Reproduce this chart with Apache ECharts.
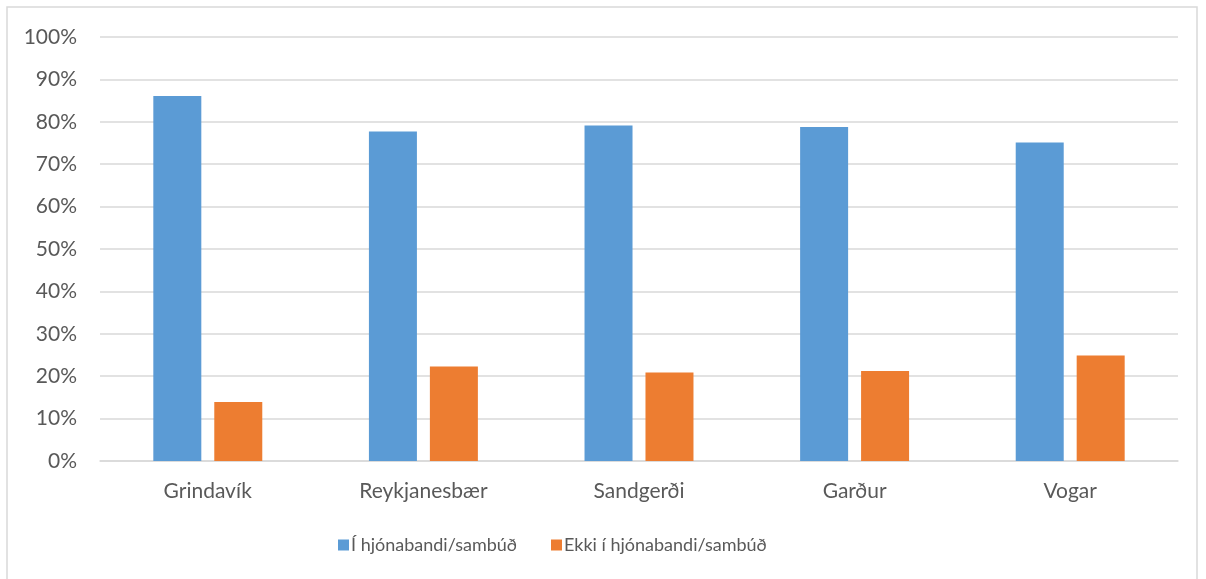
<!DOCTYPE html>
<html>
<head>
<meta charset="utf-8">
<script src="https://cdn.jsdelivr.net/npm/echarts@6/dist/echarts.min.js"></script>
<style>
  html, body { margin: 0; padding: 0; background: #fff; }
  #chart { width: 1206px; height: 579px; }
</style>
</head>
<body>
<div id="chart"></div>
<script>
var categories = ['Grindavík', 'Reykjanesbær', 'Sandgerði', 'Garður', 'Vogar'];
var married = [86.1, 77.7, 79.1, 78.8, 75.1];
var notMarried = [13.9, 22.3, 20.9, 21.2, 24.9];
var seriesNames = ['Í hjónabandi/sambúð', 'Ekki í hjónabandi/sambúð'];

var font = 'Lato, "Open Sans", sans-serif';
var chart = echarts.init(document.getElementById('chart'));

var option = {
  animation: false,
  color: ['#5b9bd5', '#ed7d31'],
  textStyle: { fontFamily: font },
  graphic: [{
    type: 'rect',
    shape: { x: 7, y: 7, width: 1190, height: 600 },
    style: { fill: 'none', stroke: '#d9d9d9', lineWidth: 1.5 },
    silent: true
  }],
  grid: { left: 100, right: 28, top: 37, bottom: 118 },
  legend: {
    bottom: 20,
    left: 333,
    itemWidth: 11,
    itemHeight: 11,
    itemGap: 34,
    icon: 'rect',
    textStyle: { color: '#595959', fontSize: 18, fontFamily: font, padding: [0, 0, 0, -3] },
    data: seriesNames
  },
  xAxis: {
    type: 'category',
    data: categories,
    axisLine: { lineStyle: { color: '#d9d9d9', width: 1.5 } },
    axisTick: { show: false },
    axisLabel: { color: '#595959', fontSize: 21, margin: 20, fontFamily: font }
  },
  yAxis: {
    type: 'value',
    min: 0,
    max: 100,
    interval: 10,
    axisLine: { show: false },
    axisTick: { show: false },
    axisLabel: { color: '#595959', fontSize: 21, margin: 23, fontFamily: font, formatter: '{value}%' },
    splitLine: { lineStyle: { color: '#d9d9d9', width: 1.5 } }
  },
  series: [{
    name: seriesNames[0],
    type: 'bar',
    data: married,
    barWidth: 48,
    barGap: '27%'
  }, {
    name: seriesNames[1],
    type: 'bar',
    data: notMarried,
    barWidth: 48,
    barGap: '27%'
  }]
};

chart.setOption(option);
</script>
</body>
</html>
